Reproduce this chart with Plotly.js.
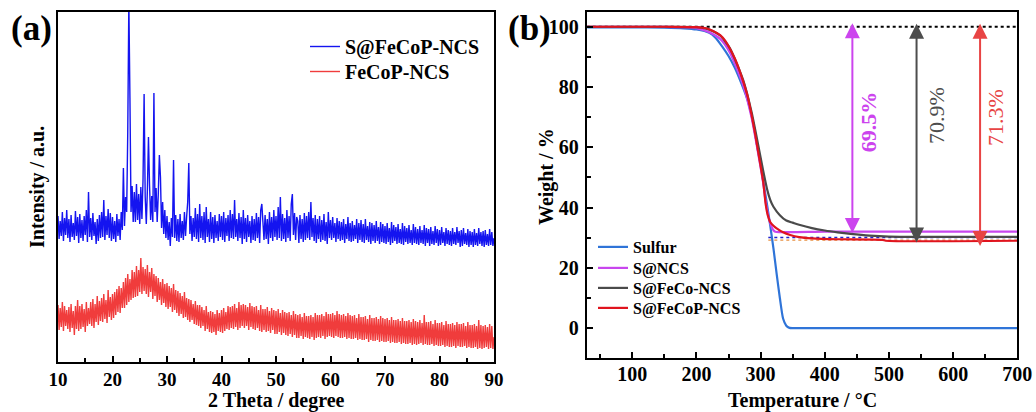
<!DOCTYPE html>
<html><head><meta charset="utf-8">
<script src="https://cdn.plot.ly/plotly-3.0.1.min.js"></script>
<style>html,body{margin:0;padding:0;background:#fff}#chart{width:1036px;height:412px}</style>
</head><body><div id="chart"></div>
<script>
const FONT = 'Liberation Serif, Times New Roman, serif';

// ---------- (a) XRD, 2-theta from 10 to 90 in steps of 0.2 degree ----------
const xrdStart = 10, xrdStep = 0.2;
const xrdSFeCoPNCS = [
146,123,141,126,150,121,144,127,152,124,
143,120,147,125,139,122,151,126,145,119,
148,124,142,121,146,127,152,120,170,125,
144,122,149,126,140,118,143,121,147,124,
150,125,162,122,146,127,153,124,149,121,
145,123,141,120,148,126,143,122,150,132,
194,136,165,150,230,360,264,150,176,140,
170,140,178,142,168,138,175,143,182,268,
165,138,172,225,176,142,166,140,269,150,
174,140,168,207,185,134,160,128,152,124,
146,122,140,116,144,125,202,124,147,121,
143,120,148,124,141,122,150,126,145,160,
199,128,146,121,144,125,154,123,148,120,
158,124,146,122,150,119,155,125,143,120,
150,123,145,119,147,124,141,121,148,125,
146,122,150,120,144,126,147,121,152,124,
148,123,162,125,143,121,149,124,145,118,
152,123,144,120,147,125,141,119,146,122,
143,121,149,124,145,119,152,158,140,122,
147,123,143,118,150,124,145,121,152,125,
146,122,155,124,165,121,148,123,144,120,
152,124,146,121,158,168,127,149,122,145,
141,119,147,123,143,120,149,122,146,124,
150,122,160,125,144,121,147,119,143,123,
146,120,142,122,148,121,140,118,150,124,
142,122,145,124,139,120,144,123,141,121,
140,122,143,119,138,123,145,121,139,120,
141,121,137,123,143,119,139,122,142,120,
138,119,143,122,136,120,140,118,139,121,
137,119,141,121,135,118,140,120,138,119,
136,118,139,120,134,117,140,119,137,121,
135,118,138,119,133,118,139,117,136,120,
134,118,137,119,132,117,138,119,135,118,
133,117,136,119,132,118,137,116,134,119,
133,116,135,118,131,117,136,119,133,116,
132,117,135,119,130,116,134,118,132,117,
131,116,134,118,130,117,135,119,131,115,
132,116,134,118,129,117,133,115,131,117,
130,115,133,117,129,116,134,118,130,116,
131,115,132,117,128,116,133,117,130,116,
124];
const xrdFeCoPNCS = [
57,32,54,35,60,31,56,36,52,33,
55,30,58,34,51,27,56,33,62,31,
56,33,58,35,53,30,60,36,54,38,
60,36,63,34,58,40,66,37,61,41,
64,40,68,43,62,39,72,45,65,42,
68,44,70,47,73,50,76,49,74,54,
80,54,84,57,88,60,83,62,92,64,
90,65,96,66,92,70,104,68,95,71,
93,68,97,65,90,70,94,63,88,66,
86,60,84,62,80,57,83,59,78,55,
79,53,76,55,74,50,78,52,72,49,
71,46,69,48,66,44,70,45,64,42,
63,40,62,42,58,38,61,37,57,36,
57,34,55,36,52,31,56,33,50,30,
51,29,50,30,48,27,52,31,49,30,
52,29,54,31,50,33,56,32,55,34,
56,33,58,35,54,32,60,34,57,36,
58,34,57,36,55,32,59,35,56,33,
55,32,56,34,52,31,57,30,53,32,
53,30,55,31,51,29,54,32,52,28,
51,28,53,30,49,27,52,29,50,27,
49,26,50,28,47,25,51,27,48,24,
47,24,48,26,45,23,49,25,46,24,
46,23,47,25,45,22,49,24,47,25,
47,24,48,26,46,23,50,25,48,26,
48,25,49,24,47,26,51,25,48,24,
47,24,48,25,46,23,49,24,47,23,
46,23,47,24,44,22,48,23,45,22,
45,22,46,23,43,20,47,22,44,21,
44,21,45,22,43,20,46,21,44,20,
43,20,44,21,42,19,45,20,42,19,
42,19,43,20,41,18,44,19,41,18,
41,18,42,19,40,17,43,18,41,17,
40,18,42,19,39,17,47,18,40,17,
40,17,41,18,38,16,42,17,39,16,
39,16,40,17,37,15,41,16,38,15,
38,15,39,16,37,14,40,16,38,15,
38,15,39,16,36,14,40,15,37,14,
37,14,38,15,36,13,42,14,37,13,
36,14,37,15,35,13,38,14,36,13,
25];
const thetaOf = arr => arr.map((_, i) => +(xrdStart + i * xrdStep).toFixed(1));

// ---------- (b) TGA ----------
const tSulfur = [30,100,150,180,200,220,230,240,250,260,270,280,290,295,300,305,310,315,320,325,330,335,340,345,350,400,500,600,700];
const wSulfur = [99.8,99.8,99.7,99.5,99.1,98.0,96.3,93.5,90.3,86.3,81.2,75.5,66.5,60,54.5,47.5,41,34,26.5,18,10,3.2,0.8,0.1,0,0,0,0,0];
const tSNCS = [30,150,180,200,220,237,252,273,286,298,304,308,312,316,320,323,400,700];
const wSNCS = [100,100,99.9,99.5,98.2,96.0,91.5,80.5,69.8,55.8,48.2,41.8,37.2,34.2,32.5,32.0,32.0,32.0];
const tSFeCo = [30,150,200,215,225,237,252,273,286,298,304,310,315,320,330,340,350,360,380,400,420,440,470,500,700];
const wSFeCo = [100,100,99.9,99.4,98.6,97.1,92.9,82.2,71.6,58.8,52.2,46.2,42.6,40.3,37.5,35.7,35.0,34.3,33.2,32.4,31.8,31.3,30.7,30.4,30.3];
const tSFeCoP = [30,150,200,215,225,237,245,252,260,266,273,280,286,292,298,304,308,311,315,320,325,335,346,360,380,420,490,495,700];
const wSFeCoP = [100,100,99.9,99.5,98.7,97.2,95.3,92.8,89.4,86.2,81.8,76.8,70.7,63.8,56.3,48.6,41,37.6,35.2,34,33.1,31.8,30.9,30.2,29.8,29.5,29.3,29.0,29.0];

// reference levels and weight-loss arrows
const topLevel = 100, residueBlue = 30.1, residueOrange = 29.2, residueStart = 312;
const arrowT = [443, 543, 642];
const arrowTop = [101.7, 101.5, 101.5];
const arrowBottom = [31.6, 28.4, 27.3];
const lossLabels = ['69.5%', '70.9%', '71.3%'];
const labelT = [468, 574, 666];
const labelW = [68.5, 70.5, 69.9];
const lossColors = ['#cc44ee', '#4d4d4d', '#e84444'];
const lossWeights = ['bold', 'normal', 'normal'];

const traces = [
  {x: thetaOf(xrdSFeCoPNCS), y: xrdSFeCoPNCS, name: 'S@FeCoP-NCS', type: 'scatter', mode: 'lines',
   line: {color: '#1414f0', width: 1.4}, xaxis: 'x', yaxis: 'y', legend: 'legend'},
  {x: thetaOf(xrdFeCoPNCS), y: xrdFeCoPNCS, name: 'FeCoP-NCS', type: 'scatter', mode: 'lines',
   line: {color: '#f03c3c', width: 1.4}, xaxis: 'x', yaxis: 'y', legend: 'legend3'},
  {x: tSulfur, y: wSulfur, name: 'Sulfur', type: 'scatter', mode: 'lines', line: {color: '#2f74d8', width: 2.2, shape: 'spline', smoothing: 0.6},
   xaxis: 'x2', yaxis: 'y2', legend: 'legend2'},
  {x: tSNCS, y: wSNCS, name: 'S@NCS', type: 'scatter', mode: 'lines', line: {color: '#c846ee', width: 2.2, shape: 'spline', smoothing: 0.6},
   xaxis: 'x2', yaxis: 'y2', legend: 'legend4'},
  {x: tSFeCo, y: wSFeCo, name: 'S@FeCo-NCS', type: 'scatter', mode: 'lines', line: {color: '#4a4a4a', width: 2.2, shape: 'spline', smoothing: 0.6},
   xaxis: 'x2', yaxis: 'y2', legend: 'legend5'},
  {x: tSFeCoP, y: wSFeCoP, name: 'S@FeCoP-NCS', type: 'scatter', mode: 'lines', line: {color: '#e0141e', width: 2.2, shape: 'spline', smoothing: 0.6},
   xaxis: 'x2', yaxis: 'y2', legend: 'legend6'}
];

const tickFontA = {family: FONT, size: 19, color: '#000', weight: 'bold'};
const tickFontB = {family: FONT, size: 20, color: '#000', weight: 'bold'};
const titleFont = {family: FONT, size: 20, color: '#000', weight: 'bold'};

const axisCommon = {showgrid: false, zeroline: false, showline: true, linecolor: '#000', linewidth: 2, mirror: true,
  ticks: 'inside', tickcolor: '#000', tickwidth: 2, ticklen: 6};

const annotations = [
  {text: '(a)', xref: 'paper', yref: 'paper', x: 31/1036, y: (412-29)/412, xanchor: 'center', yanchor: 'middle', showarrow: false,
   font: {family: FONT, size: 35, color: '#000', weight: 'bold'}},
  {text: '(b)', xref: 'paper', yref: 'paper', x: 529/1036, y: (412-29)/412, xanchor: 'center', yanchor: 'middle', showarrow: false,
   font: {family: FONT, size: 35, color: '#000', weight: 'bold'}},
  {text: 'Intensity / a.u.', xref: 'paper', yref: 'paper', x: 37/1036, y: (412-187)/412, textangle: -90, xanchor: 'center', yanchor: 'middle', showarrow: false, font: titleFont},
  {text: '2 Theta / degree', xref: 'paper', yref: 'paper', x: 276/1036, y: (412-400)/412, xanchor: 'center', yanchor: 'middle', showarrow: false, font: titleFont},
  {text: 'Weight / %', xref: 'paper', yref: 'paper', x: 546/1036, y: (412-177)/412, textangle: -90, xanchor: 'center', yanchor: 'middle', showarrow: false, font: titleFont},
  {text: 'Temperature / °C', xref: 'paper', yref: 'paper', x: 802/1036, y: (412-400)/412, xanchor: 'center', yanchor: 'middle', showarrow: false, font: titleFont}
];
arrowT.forEach((t, i) => {
  annotations.push({text: '', xref: 'x2', yref: 'y2', axref: 'x2', ayref: 'y2', x: t, y: arrowBottom[i], ax: t, ay: arrowTop[i],
    showarrow: true, arrowside: 'end+start', arrowhead: 2, startarrowhead: 2, arrowsize: 1.5, startarrowsize: 1.5, arrowwidth: 2, arrowcolor: lossColors[i]});
  annotations.push({text: lossLabels[i], xref: 'x2', yref: 'y2', x: labelT[i], y: labelW[i], textangle: -90, showarrow: false,
    xanchor: 'center', yanchor: 'middle', font: {family: FONT, size: 22, color: lossColors[i], weight: lossWeights[i]}});
});

const shapes = [
  {type: 'line', xref: 'x2', yref: 'y2', x0: 29, x1: 700, y0: topLevel, y1: topLevel, layer: 'below', line: {color: '#000', width: 2, dash: 'dot'}},
  {type: 'line', xref: 'x2', yref: 'y2', x0: residueStart, x1: 700, y0: residueBlue, y1: residueBlue, layer: 'below', line: {color: '#2222cc', width: 1.6, dash: 'dot'}},
  {type: 'line', xref: 'x2', yref: 'y2', x0: residueStart, x1: 700, y0: residueOrange, y1: residueOrange, layer: 'below', line: {color: '#e89040', width: 1.4, dash: 'dot'}}
];

const legendBase = (xPx, topPx, size) => ({x: xPx/1036, y: (412-topPx)/412, xanchor: 'left', yanchor: 'top',
  bgcolor: 'rgba(0,0,0,0)', borderwidth: 0, font: {family: FONT, size: size, color: '#000', weight: 'bold'}});

const layout = {
  width: 1036, height: 412, margin: {l: 0, r: 0, t: 0, b: 0},
  paper_bgcolor: '#fff', plot_bgcolor: '#fff', showlegend: true,
  font: {family: FONT, color: '#000'},
  xaxis: Object.assign({}, axisCommon, {domain: [58/1036, 494/1036], range: [10, 90], tickmode: 'linear', tick0: 10, dtick: 10,
    tickfont: tickFontA, ticklabelstandoff: -1, minor: {ticks: 'inside', dtick: 5, tick0: 10, ticklen: 4, tickwidth: 2, tickcolor: '#000'}, anchor: 'y'}),
  yaxis: Object.assign({}, axisCommon, {domain: [(412-362)/412, 400/412], range: [0, 350], ticks: '', showticklabels: false, anchor: 'x'}),
  xaxis2: Object.assign({}, axisCommon, {domain: [586.7/1036, 1017.3/1036], range: [29, 700], tickmode: 'linear', tick0: 0, dtick: 100,
    tickfont: tickFontB, ticklabelstandoff: -3, minor: {ticks: 'inside', dtick: 50, tick0: 0, ticklen: 4, tickwidth: 2, tickcolor: '#000'}, anchor: 'y2'}),
  yaxis2: Object.assign({}, axisCommon, {domain: [(412-358.3)/412, (412-11.7)/412], range: [-10, 105], tickmode: 'linear', tick0: 0, dtick: 20,
    tickfont: tickFontB, ticklabelstandoff: 2, minor: {ticks: 'inside', dtick: 10, tick0: 0, ticklen: 4, tickwidth: 2, tickcolor: '#000'}, anchor: 'x2'}),
  legend: legendBase(305, 27, 20),
  legend3: legendBase(305, 52, 20),
  legend2: legendBase(593, 230, 16),
  legend4: legendBase(593, 251, 16),
  legend5: legendBase(593, 271, 16),
  legend6: legendBase(593, 291, 16),
  annotations: annotations,
  shapes: shapes
};

Plotly.newPlot('chart', traces, layout, {displayModeBar: false, staticPlot: true});
</script>
</body></html>
